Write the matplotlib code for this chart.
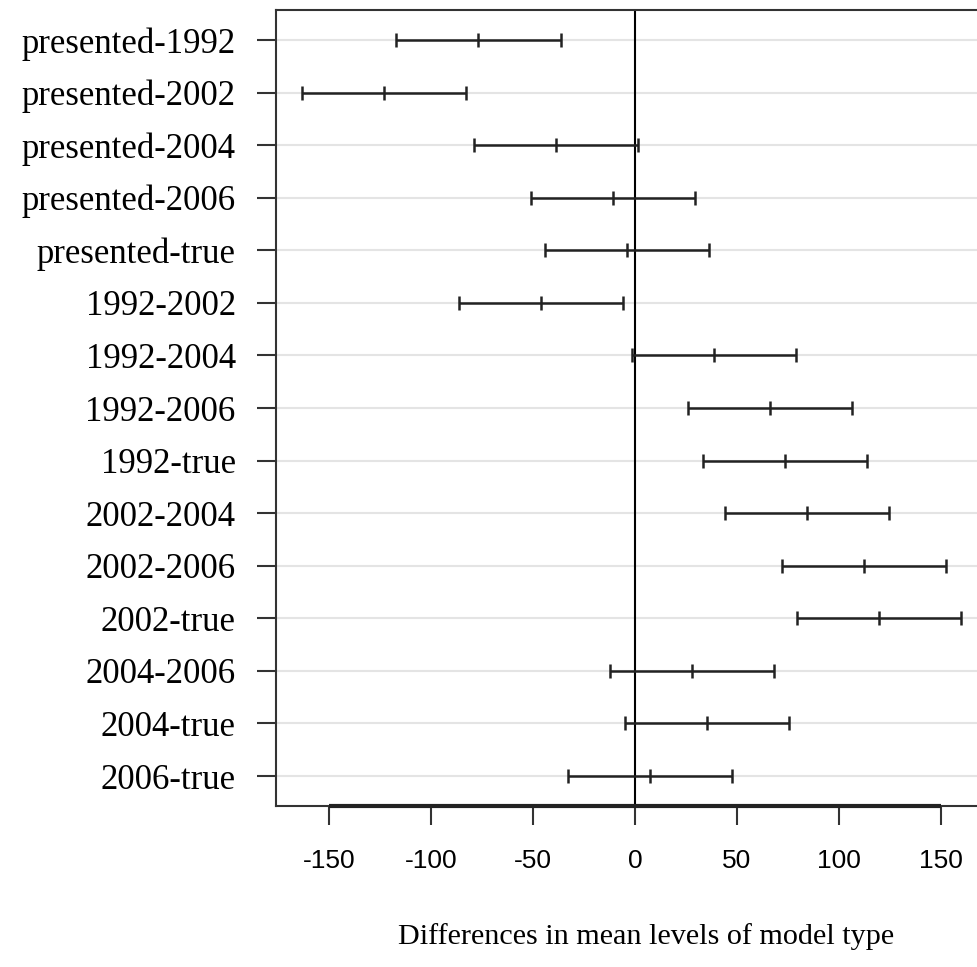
import matplotlib
matplotlib.use("Agg")
import matplotlib.pyplot as plt
import numpy as np

comparisons = ["presented-1992", "presented-2002", "presented-2004", "presented-2006",
               "presented-true", "1992-2002", "1992-2004", "1992-2006", "1992-true",
               "2002-2004", "2002-2006", "2002-true", "2004-2006", "2004-true", "2006-true"]
diff = [-76.8, -123.0, -38.6, -10.8, -3.9, -46.0, 38.5, 66.2, 73.5, 84.3, 112.4, 119.6, 27.9, 35.3, 7.2]
lwr = [-117.1, -163.3, -78.9, -51.1, -44.2, -86.2, -1.6, 26.0, 33.3, 44.1, 72.2, 79.4, -12.4, -5.0, -32.9]
upr = [-36.5, -82.8, 1.6, 29.5, 36.4, -5.7, 78.8, 106.4, 113.7, 124.5, 152.7, 159.8, 68.1, 75.5, 47.4]
xticks = [-150, -100, -50, 0, 50, 100, 150]
xlabel = "Differences in mean levels of model type"

fig = plt.figure(figsize=(9.78, 9.67), dpi=100)
ax = fig.add_axes([276/978, (967-806)/967, 718/978, 796/967])

n = len(comparisons)
ypos = np.arange(n, 0, -1)

ax.set_xlim(-176, 176)
ax.set_ylim(0.43, n + 0.57)

for y in ypos:
    ax.axhline(y, color="#e4e4e4", lw=1.5, zorder=0)

ax.axvline(0, color="black", lw=1.5, zorder=1)

ax.hlines(ypos, lwr, upr, color="#222222", lw=1.8, zorder=2)
ax.plot(lwr, ypos, ls="none", marker="|", ms=10, mew=1.8, color="#222222", zorder=3)
ax.plot(diff, ypos, ls="none", marker="|", ms=10, mew=1.8, color="#222222", zorder=3)
ax.plot(upr, ypos, ls="none", marker="|", ms=10, mew=1.8, color="#222222", zorder=3)

for s in ["left", "top", "right", "bottom"]:
    ax.spines[s].set_color("#333333")
    ax.spines[s].set_linewidth(1.5)

# R-style axis line spanning the ticks
ax.plot([xticks[0], xticks[-1]], [0, 0], transform=ax.get_xaxis_transform(),
        color="#222222", lw=3, clip_on=False, zorder=4, solid_capstyle="butt")

ax.set_yticks(ypos)
ax.set_yticklabels(comparisons, family="Liberation Serif", fontsize=25)
ax.set_xticks(xticks)
ax.set_xticklabels([str(t) for t in xticks], family="Liberation Sans", fontsize=19)
ax.tick_params(axis="y", length=14, width=1.5, color="#333333", pad=15)
ax.tick_params(axis="x", length=14, width=1.5, color="#333333", pad=17)

fig.text(646/978, 1 - 937/967, xlabel, family="Liberation Serif", fontsize=21.7,
         ha="center", va="center")

fig.savefig("out.png", dpi=100)
